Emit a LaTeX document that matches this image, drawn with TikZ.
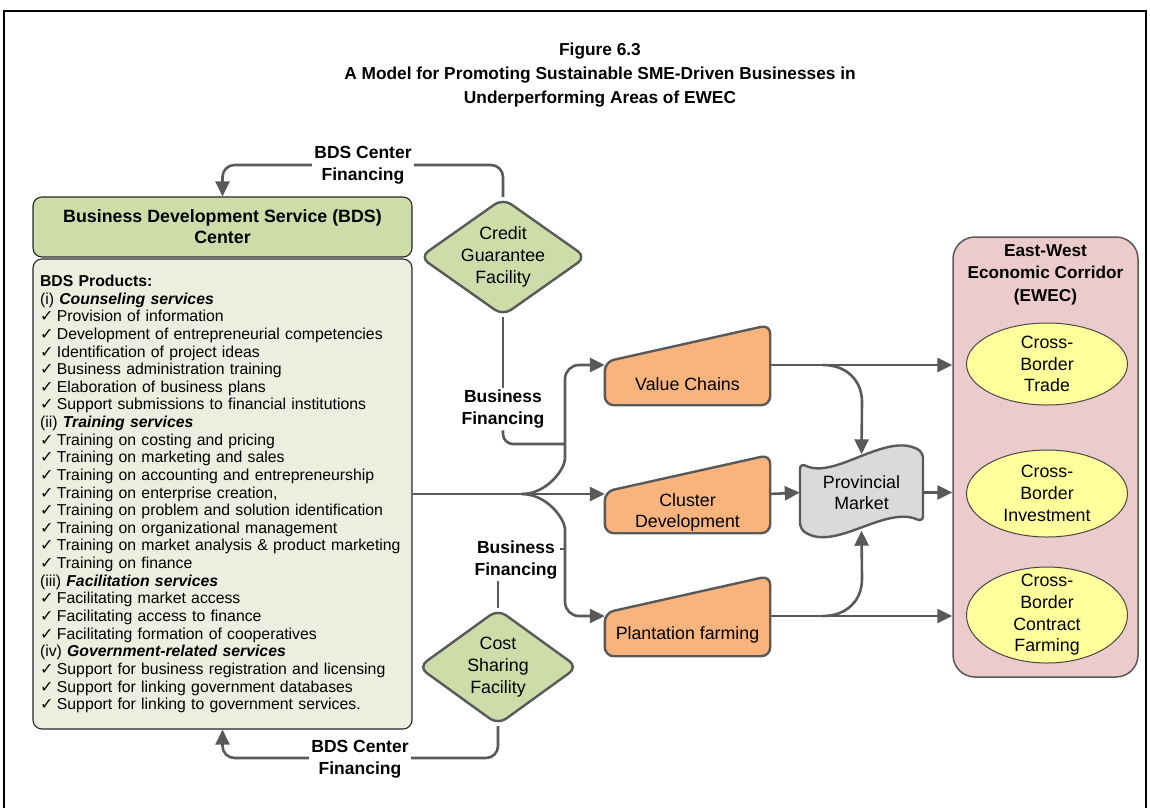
\documentclass[tikz,border=0pt]{standalone}
\usepackage{fontspec}
\setmainfont{Liberation Sans}
\newfontfamily\symf{DejaVu Sans}
\usetikzlibrary{shapes.geometric,arrows.meta,calc}
\definecolor{lineg}{HTML}{595959}
\definecolor{bdshead}{HTML}{CDDCA8}
\definecolor{bdsbody}{HTML}{EBEFDF}
\definecolor{orangefill}{HTML}{F8B47C}
\definecolor{greyfill}{HTML}{DADADA}
\definecolor{pinkfill}{HTML}{EBCBCB}
\definecolor{yellowfill}{HTML}{FFFF9C}
\newcommand\tickmark{{\symf\fontsize{16}{16}\selectfont ✓}\hspace{3.5pt}}
\begin{document}
\begin{tikzpicture}[x=1pt,y=-1pt,
  conn/.style={draw=lineg, line width=2.6pt},
  arr/.style={conn, -{Triangle[length=15pt,width=14pt]}},
  nt/.style={font=\fontsize{17.8}{21.7}\selectfont, align=center, inner sep=1pt},
  lbl/.style={font=\bfseries\fontsize{17.5}{22}\selectfont, align=center, fill=white, inner sep=2pt},
  bdsbox/.style={draw=black!85, line width=1.1pt, rounded corners=9pt, minimum width=379pt},
  diam/.style={diamond, draw=lineg, line width=2.4pt, fill=bdshead, rounded corners=10pt, inner sep=0pt},
  trapz/.style={draw=lineg, line width=2.4pt, fill=orangefill, rounded corners=9pt},
  bbox/.style={minimum width=165pt, inner sep=0pt},
  ell/.style={ellipse, draw=lineg!80!black, line width=1pt, fill=yellowfill, inner sep=0pt, minimum width=161pt}
]
\useasboundingbox (0,0) rectangle (1150,807);
\clip (0,0) rectangle (1150,807);

% outer frame
\draw[line width=2pt] (4,11) rectangle (1146,830);

% title
\node[font=\bfseries\fontsize{17.3}{24}\selectfont, align=center] (title) at (600,75)
  {Figure 6.3\\A Model for Promoting Sustainable SME-Driven Businesses in\\Underperforming Areas of EWEC};

% BDS centre
\node[bdsbox, fill=bdshead, minimum height=60pt, align=center,
      font=\bfseries\fontsize{17.8}{21}\selectfont] (hdr) at (222.5,227)
  {Business Development Service (BDS)\\Center};
\node[bdsbox, fill=bdsbody, text width=365pt, inner xsep=7pt, minimum height=470pt, align=left,
      font=\fontsize{15.8}{17.63}\selectfont] (body) at (222.5,494) {%
\textbf{BDS Products:}\\
(i) \textbf{\textit{Counseling services}}\\
\tickmark Provision of information\\
\tickmark Development of entrepreneurial competencies\\
\tickmark Identification of project ideas\\
\tickmark Business administration training\\
\tickmark Elaboration of business plans\\
\tickmark Support submissions to financial institutions\\
(ii) \textbf{\textit{Training services}}\\
\tickmark Training on costing and pricing\\
\tickmark Training on marketing and sales\\
\tickmark Training on accounting and entrepreneurship\\
\tickmark Training on enterprise creation,\\
\tickmark Training on problem and solution identification\\
\tickmark Training on organizational management\\
\tickmark Training on market analysis \& product marketing\\
\tickmark Training on finance\\
(iii) \textbf{\textit{Facilitation services}}\\
\tickmark Facilitating market access\\
\tickmark Facilitating access to finance\\
\tickmark Facilitating formation of cooperatives\\
(iv) \textbf{\textit{Government-related services}}\\
\tickmark Support for business registration and licensing\\
\tickmark Support for linking government databases\\
\tickmark Support for linking to government services.};

% financing facilities
\node[diam, minimum width=167pt, minimum height=118pt] (cg) at (503,257) {};
\node[nt] (cg-t) at (cg) {Credit\\Guarantee\\Facility};
\node[diam, minimum width=160pt, minimum height=116pt] (cs) at (498,667) {};
\node[nt] (cs-t) at (cs) {Cost\\Sharing\\Facility};

% business types (manual-input shapes)
\node[bbox, minimum height=80pt] (vc) at (687.5,365) {};
\draw[trapz] (vc.south west) -- ($(vc.north west)!0.46!(vc.south west)$) -- (vc.north east) -- (vc.south east) -- cycle;
\node[nt] (vc-t) at ($(vc.center)+(0,19)$) {Value Chains};

\node[bbox, minimum height=78pt] (cd) at (687.5,494) {};
\draw[trapz] (cd.south west) -- ($(cd.north west)!0.47!(cd.south west)$) -- (cd.north east) -- (cd.south east) -- cycle;
\node[nt] (cd-t) at ($(cd.center)+(0,18.5)$) {Cluster\\Development};

\node[bbox, minimum height=80pt] (pf) at (687.5,616) {};
\draw[trapz] (pf.south west) -- ($(pf.north west)!0.46!(pf.south west)$) -- (pf.north east) -- (pf.south east) -- cycle;
\node[nt] (pf-t) at ($(pf.center)+(0,19)$) {Plantation farming};

% provincial market (tape shape)
\node[minimum width=123pt, minimum height=76pt, inner sep=0pt] (pm) at (861.5,492.5) {};
\draw[draw=lineg, line width=2.4pt, fill=greyfill, rounded corners=6pt]
  (800,463) .. controls (835,480) and (885,432) .. (923,452) -- (923,522)
  .. controls (885,505) and (835,552) .. (800,529) -- cycle;
\node[nt] (pm-t) at (pm) {Provincial\\Market};

% East-West Economic Corridor
\node[draw=lineg, line width=1.5pt, fill=pinkfill, rounded corners=22pt, minimum width=185pt,
      minimum height=440pt, inner sep=0pt] (ewec) at (1045.5,457) {};
\node[font=\bfseries\fontsize{17.2}{22.5}\selectfont, align=center] (ewec-t) at (1045.5,274.5)
  {East-West\\Economic Corridor\\(EWEC)};
\node[ell, minimum height=82pt] (e1) at (1047,364) {};
\node[nt] (e1-t) at (e1) {Cross-\\Border\\Trade};
\node[ell, minimum height=87pt] (e2) at (1047,493.5) {};
\node[nt] (e2-t) at (e2) {Cross-\\Border\\Investment};
\node[ell, minimum height=96pt] (e3) at (1047,615) {};
\node[nt] (e3-t) at (e3) {Cross-\\Border\\Contract\\Farming};

% BDS centre financing loops
\coordinate (topline) at (0,165);
\coordinate (botline) at (0,758);
\draw[arr, rounded corners=12pt] (cg.north) |- (hdr.north |- topline) -- (hdr.north);
\node[lbl] (bds1) at (363,165) {BDS Center\\Financing};
\draw[arr, rounded corners=12pt] (cs.south) |- (body.south |- botline) -- (body.south);
\node[lbl] (bds2) at (360,759) {BDS Center\\Financing};

% main trunk and branches
\coordinate (split) at (522,494);
\draw[arr] (body.east) -- (cd.west);
\draw[arr, rounded corners=14pt] (split) .. controls (546,494) and (565,470) .. (565,444) |- (vc.west);
\draw[arr, rounded corners=14pt] (split) .. controls (546,494) and (565,518) .. (565,544) |- (pf.west);

% business financing links
\node[lbl, fill=none] (bf1) at (503,409) {Business\\Financing};
\draw[conn] (cg.south) -- (bf1.north);
\draw[conn, rounded corners=10pt] (bf1.south) |- (565,444);
\node[lbl, fill=none] (bf2) at (516,560) {Business\\Financing};
\draw[conn] ([yshift=11pt]bf2.east) -- ++(6,0);
\draw[conn] (bf2.south -| cs.north) -- (cs.north);

% flows towards the market and the corridor
\coordinate (vsplit) at (823,365);
\coordinate (psplit) at (823,616);
\draw[arr] (vc.east) -- (ewec.west |- vc.east);
\draw[arr] (vsplit) .. controls (846,365) and (862,380) .. (862,402) -- (pm.north);
\draw[arr] (cd.east) -- (pm.west);
\draw[arr] (pm.east) -- (ewec.west |- pm.east);
\draw[arr] (pf.east) -- (ewec.west |- pf.east);
\draw[arr] (psplit) .. controls (846,616) and (862,601) .. (862,579) -- (pm.south);
\end{tikzpicture}
\end{document}
